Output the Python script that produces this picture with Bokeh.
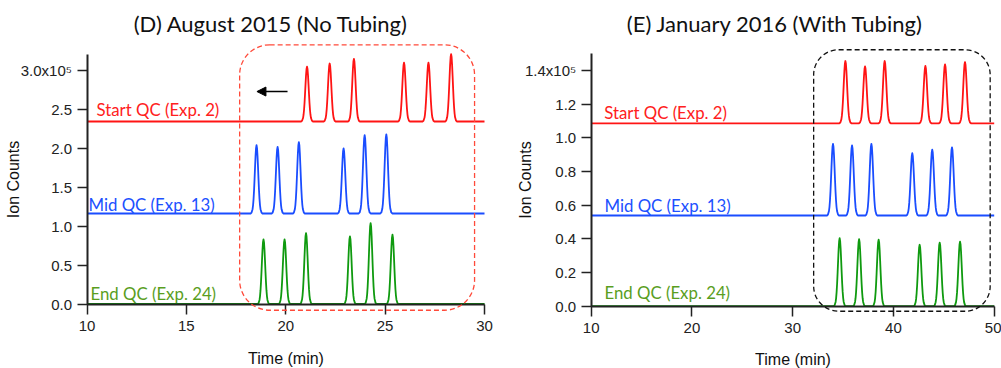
from bokeh.plotting import figure
from bokeh.layouts import row
from bokeh.models import BoxAnnotation, Label, Arrow, NormalHead, FixedTicker, Range1d
from bokeh.embed import file_html
from bokeh.resources import INLINE

# ---------------- data (ion counts in units of 1e5) ----------------
# Peak template: offset in half-widths, relative height
peak_offset = [-3.0, -2.5, -2.0, -1.75, -1.5, -1.25, -1.0, -0.75, -0.5, -0.25, 0.0,
               0.25, 0.5, 0.75, 1.0, 1.25, 1.5, 1.75, 2.0, 2.5, 3.0]
peak_shape = [0.0, 0.013, 0.063, 0.119, 0.21, 0.338, 0.5, 0.677, 0.841, 0.958, 1.0,
              0.958, 0.841, 0.677, 0.5, 0.338, 0.21, 0.119, 0.063, 0.013, 0.0]

# Panel D: August 2015 (No Tubing)
d_time = [10.0, 30.0]
d_ymax = 3.206
d_halfwidth = 0.1
d_start_base = 2.345
d_start_rt = [21.07, 22.21, 23.43, 25.95, 27.18, 28.32]
d_start_apex = [3.05, 3.09, 3.15, 3.10, 3.10, 3.21]
d_mid_base = 1.163
d_mid_rt = [18.53, 19.59, 20.66, 22.91, 23.97, 25.06]
d_mid_apex = [2.04, 2.02, 2.08, 2.00, 2.17, 2.18]
d_end_base = 0.0
d_end_rt = [18.88, 19.94, 21.02, 23.23, 24.27, 25.37]
d_end_apex = [0.83, 0.83, 0.91, 0.87, 1.04, 0.89]
d_xticks = [10, 15, 20, 25, 30]
d_yticks = [0.0, 0.5, 1.0, 1.5, 2.0, 2.5, 3.0]
d_ytick_labels = ["0.0", "0.5", "1.0", "1.5", "2.0", "2.5", "3.0x10\u2075"]

# Panel E: January 2016 (With Tubing)
e_time = [10.0, 50.0]
e_ymax = 1.5
e_halfwidth = 0.2
e_start_base = 1.087
e_start_rt = [35.23, 37.18, 39.13, 43.17, 45.12, 47.10]
e_start_apex = [1.457, 1.425, 1.457, 1.428, 1.437, 1.451]
e_mid_base = 0.539
e_mid_rt = [34.00, 35.89, 37.81, 41.87, 43.85, 45.81]
e_mid_apex = [0.964, 0.956, 0.964, 0.909, 0.931, 0.944]
e_end_base = 0.0
e_end_rt = [34.66, 36.59, 38.53, 42.60, 44.59, 46.61]
e_end_apex = [0.404, 0.398, 0.396, 0.365, 0.378, 0.384]
e_xticks = [10, 20, 30, 40, 50]
e_yticks = [0.0, 0.2, 0.4, 0.6, 0.8, 1.0, 1.2, 1.4]
e_ytick_labels = ["0.0", "0.2", "0.4", "0.6", "0.8", "1.0", "1.2", "1.4x10\u2075"]

series_names = ["Start QC (Exp. 2)", "Mid QC (Exp. 13)", "End QC (Exp. 24)"]

# ---------------- styling ----------------
LINE_COLORS = ["#ff1414", "#1a4dff", "#0f9a0f"]
TEXT_COLORS = ["#ff2020", "#2050ff", "#5a9e1e"]
TITLE_FONT = "Lato"
AXIS_FONT = "Liberation Sans"
AXIS_COLOR = "#222222"
H = 368


def build_trace(t_range, base, rts, apexes, hw):
    xs = [t_range[0]]
    ys = [base]
    for rt, ap in zip(rts, apexes):
        for o, s in zip(peak_offset, peak_shape):
            xs.append(rt + o * hw)
            ys.append(base + (ap - base) * s)
    xs.append(t_range[1])
    ys.append(base)
    return xs, ys


class Geo:
    """Frame = whole figure; axes are placed at fixed data locations."""
    def __init__(self, width, ax_x0, ax_x1, ay0, ay1, xr, ymax):
        self.width = width
        ppx = (ax_x1 - ax_x0) / (xr[1] - xr[0])
        ppy = (ay0 - ay1) / ymax
        self.ppx, self.ppy = ppx, ppy
        self.xr = (xr[0] - ax_x0 / ppx, xr[0] + (width - ax_x0) / ppx)
        self.yr = (-(H - ay0) / ppy, ay0 / ppy)

    def data(self, px, py):
        return self.xr[0] + px / self.ppx, self.yr[1] - py / self.ppy


def make_panel(g, t_range, ymax, xticks, yticks, ylabels, xlab_standoff, ylab_standoff):
    p = figure(width=g.width, height=H, x_range=Range1d(*g.xr), y_range=Range1d(*g.yr),
               output_backend="svg", toolbar_location=None, title=None,
               min_border=0, min_border_left=0, min_border_right=0,
               min_border_top=0, min_border_bottom=0)
    p.outline_line_color = None
    p.grid.visible = False
    p.background_fill_color = "white"
    p.border_fill_color = "white"
    for ax in (p.xaxis[0], p.yaxis[0]):
        ax.axis_line_width = 2
        ax.axis_line_color = AXIS_COLOR
        ax.major_tick_line_color = AXIS_COLOR
        ax.major_tick_line_width = 1.5
        ax.major_tick_out = 10
        ax.major_tick_in = 0
        ax.minor_tick_out = 0
        ax.minor_tick_in = 0
        ax.major_label_text_font = AXIS_FONT
        ax.major_label_text_font_size = "15px"
        ax.major_label_text_color = AXIS_COLOR
        ax.axis_label_text_font = AXIS_FONT
        ax.axis_label_text_font_size = "16px"
        ax.axis_label_text_font_style = "normal"
        ax.axis_label_text_color = "#111111"
    p.xaxis.ticker = FixedTicker(ticks=xticks)
    p.yaxis.ticker = FixedTicker(ticks=yticks)
    p.xaxis.fixed_location = 0
    p.yaxis.fixed_location = t_range[0]
    p.xaxis.bounds = (t_range[0], t_range[1])
    p.yaxis.bounds = (0, ymax)
    p.xaxis.major_label_standoff = 7
    p.yaxis.major_label_standoff = 5
    p.yaxis.major_label_overrides = {t: l for t, l in zip(yticks, ylabels)}
    p.xaxis.major_label_overrides = {t: str(t) for t in xticks}
    p.xaxis.axis_label = "Time (min)"
    p.yaxis.axis_label = "Ion Counts"
    p.xaxis.axis_label_standoff = xlab_standoff
    p.yaxis.axis_label_standoff = ylab_standoff
    return p


def decorate(p, g, title, title_pos, series_pos):
    tx, ty = g.data(*title_pos)
    p.add_layout(Label(x=tx, y=ty, text=title, text_font=TITLE_FONT, text_font_size="22px",
                       text_align="center", text_baseline="middle", text_color="#111111"))
    for name, color, pos in zip(series_names, TEXT_COLORS, series_pos):
        sx, sy = g.data(*pos)
        p.add_layout(Label(x=sx, y=sy, text=name, text_font=TITLE_FONT, text_font_size="16.8px",
                           text_align="left", text_baseline="alphabetic", text_color=color))


# ---------------- panel D ----------------
gd = Geo(500, 86.5, 484, 303.5, 54, d_time, d_ymax)
pd = make_panel(gd, d_time, d_ymax, d_xticks, d_yticks, d_ytick_labels, 15, -4)
for (base, rts, apx), col in zip([(d_start_base, d_start_rt, d_start_apex),
                                  (d_mid_base, d_mid_rt, d_mid_apex),
                                  (d_end_base, d_end_rt, d_end_apex)], LINE_COLORS):
    xs, ys = build_trace(d_time, base, rts, apx, d_halfwidth)
    pd.line(xs, ys, line_color=col, line_width=1.8, line_join="round")
pd.add_layout(BoxAnnotation(left=17.68, right=29.5, top=3.33, bottom=-0.08,
                            fill_alpha=0, line_color="#ff4a3a", line_alpha=1.0, line_width=1.3,
                            line_dash="5 3", border_radius=30))
pd.add_layout(Arrow(x_start=20.09, y_start=2.73, x_end=18.55, y_end=2.73,
                    line_color="black", line_width=1.5,
                    end=NormalHead(size=9, fill_color="black", line_color="black")))
decorate(pd, gd, "(D) August 2015 (No Tubing)", (270.5, 23), [(96, 109), (88, 204), (90, 293)])

# ---------------- panel E ----------------
ge = Geo(501, 90.7, 493.7, 305.7, 53.3, e_time, e_ymax)
pe = make_panel(ge, e_time, e_ymax, e_xticks, e_yticks, e_ytick_labels, 14, -12)
for (base, rts, apx), col in zip([(e_start_base, e_start_rt, e_start_apex),
                                  (e_mid_base, e_mid_rt, e_mid_apex),
                                  (e_end_base, e_end_rt, e_end_apex)], LINE_COLORS):
    xs, ys = build_trace(e_time, base, rts, apx, e_halfwidth)
    pe.line(xs, ys, line_color=col, line_width=1.8, line_join="round")
pe.add_layout(BoxAnnotation(left=32.08, right=49.6, top=1.524, bottom=-0.03,
                            fill_alpha=0, line_color="#111111", line_alpha=1.0, line_width=1.3,
                            line_dash="5 3", border_radius=25))
decorate(pe, ge, "(E) January 2016 (With Tubing)", (274.7, 23), [(103.7, 112), (104, 204.5), (104, 292)])

layout = row(pd, pe)
open("out.html", "w").write(file_html(layout, INLINE))
